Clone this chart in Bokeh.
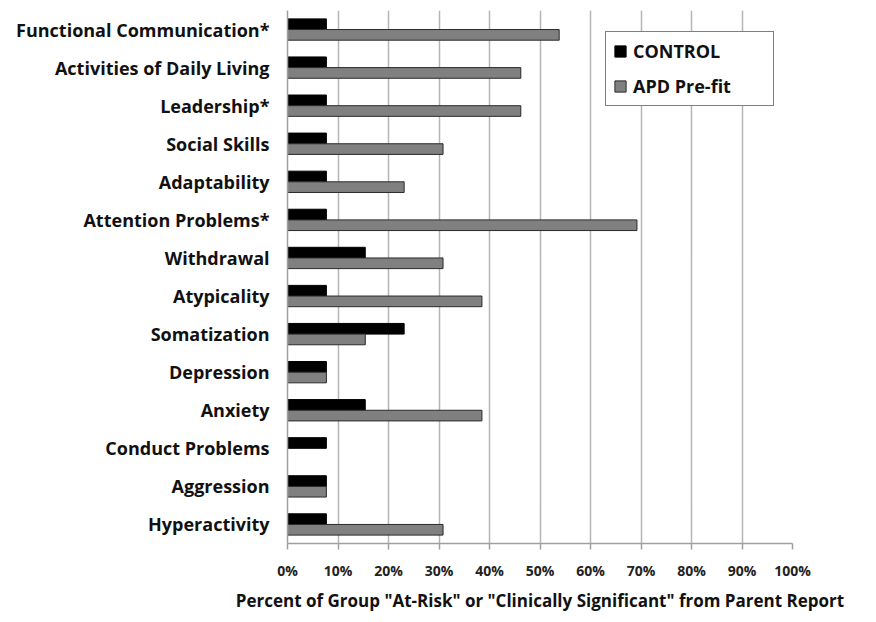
from bokeh.plotting import figure
from bokeh.models import FactorRange, Range1d, PrintfTickFormatter, Legend, LegendItem, ColumnDataSource, FixedTicker
from bokeh.transform import dodge
from bokeh.embed import file_html
from bokeh.resources import INLINE

categories = ["Functional Communication*", "Activities of Daily Living", "Leadership*",
              "Social Skills", "Adaptability", "Attention Problems*", "Withdrawal",
              "Atypicality", "Somatization", "Depression", "Anxiety",
              "Conduct Problems", "Aggression", "Hyperactivity"]
control = [7.7, 7.7, 7.7, 7.7, 7.7, 7.7, 15.4, 7.7, 23.1, 7.7, 15.4, 7.7, 7.7, 7.7]
apd_prefit = [53.8, 46.2, 46.2, 30.8, 23.1, 69.2, 30.8, 38.5, 15.4, 7.7, 38.5, 0.0, 7.7, 30.8]
x_ticks = [0, 10, 20, 30, 40, 50, 60, 70, 80, 90, 100]

FONT = "Open Sans"

src = ColumnDataSource(dict(cat=categories, control=control, apd=apd_prefit))

p = figure(width=860, height=614, output_backend="svg", toolbar_location=None,
           y_range=FactorRange(factors=list(reversed(categories))),
           x_range=Range1d(0, 100),
           min_border_left=287, min_border_right=68, min_border_top=10, min_border_bottom=66)
p.outline_line_color = None
p.background_fill_color = "white"

r1 = p.hbar(y=dodge("cat", 0.14, range=p.y_range), right="control", left=0, height=0.28,
            source=src, fill_color="black", line_color="black", line_width=1)
r2 = p.hbar(y=dodge("cat", -0.14, range=p.y_range), right="apd", left=0, height=0.28,
            source=src, fill_color="#808080", line_color="#2a2a2a", line_width=1)

p.ygrid.grid_line_color = None
p.xgrid.ticker = FixedTicker(ticks=x_ticks)
p.xgrid.grid_line_color = "#b5b5b5"
p.xgrid.grid_line_width = 1.5

p.xaxis.ticker = FixedTicker(ticks=x_ticks)
p.xaxis.formatter = PrintfTickFormatter(format="%d%%")
p.xaxis.axis_line_color = "#a0a0a0"
p.xaxis.axis_line_width = 1.5
p.xaxis.major_tick_line_color = "#a0a0a0"
p.xaxis.major_tick_line_width = 1.5
p.xaxis.major_tick_out = 6
p.xaxis.major_tick_in = 0
p.xaxis.minor_tick_line_color = None
p.xaxis.major_label_text_font = FONT
p.xaxis.major_label_text_font_style = "bold"
p.xaxis.major_label_text_font_size = "14px"
p.xaxis.major_label_text_color = "#222222"
p.xaxis.major_label_standoff = 11
p.xaxis.axis_label = 'Percent of Group "At-Risk" or "Clinically Significant" from Parent Report'
p.xaxis.axis_label_text_font = FONT
p.xaxis.axis_label_text_font_style = "bold"
p.xaxis.axis_label_text_font_size = "17px"
p.xaxis.axis_label_text_color = "#111111"
p.xaxis.axis_label_standoff = 6

p.yaxis.axis_line_color = "#a0a0a0"
p.yaxis.axis_line_width = 1.5
p.yaxis.major_tick_line_color = None
p.yaxis.major_tick_out = 0
p.yaxis.major_tick_in = 0
p.yaxis.minor_tick_line_color = None
p.yaxis.major_label_text_font = FONT
p.yaxis.major_label_text_font_style = "bold"
p.yaxis.major_label_text_font_size = "18px"
p.yaxis.major_label_text_color = "#111111"
p.yaxis.major_label_standoff = 18

legend = Legend(items=[LegendItem(label="CONTROL", renderers=[r1]),
                       LegendItem(label="APD Pre-fit", renderers=[r2])],
                location=(318, 437), orientation="vertical",
                border_line_color="black", border_line_width=1.5,
                background_fill_color="white", background_fill_alpha=1,
                padding=7, spacing=11, margin=0,
                glyph_width=14, glyph_height=14, label_standoff=6,
                label_height=20, label_width=133,
                label_text_font=FONT, label_text_font_style="bold",
                label_text_font_size="18px", label_text_color="#111111")
p.add_layout(legend)

open("out.html", "w").write(file_html(p, INLINE))
